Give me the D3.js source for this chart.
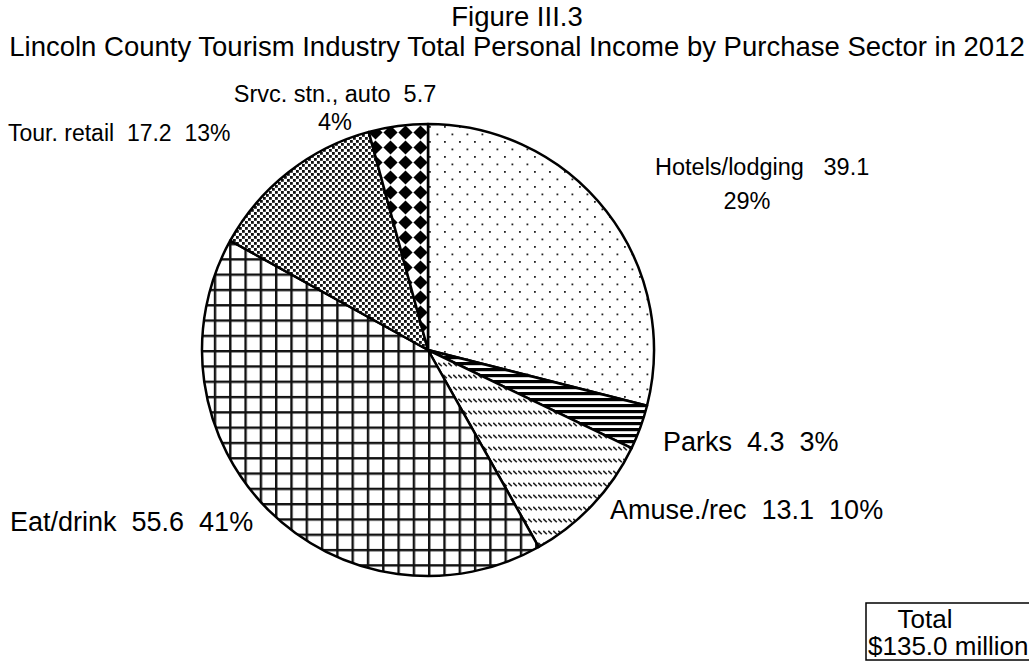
<!DOCTYPE html>
<html><head><meta charset="utf-8">
<script src="https://cdn.jsdelivr.net/npm/d3@7"></script>
<style>
html,body{margin:0;padding:0;background:#fff;}
svg{display:block;font-family:"Liberation Sans",Arial,sans-serif;}
text{fill:#000;}
</style></head>
<body>
<svg id="chart" width="1029" height="665"></svg>
<script>
const sectors = ["Hotels/lodging","Parks","Amuse./rec","Eat/drink","Tour. retail","Srvc. stn., auto"];
const values = [39.1, 4.3, 13.1, 55.6, 17.2, 5.7];
const percents = ["29%","3%","10%","41%","13%","4%"];
const titleLines = ["Figure III.3","Lincoln County Tourism Industry Total Personal Income by Purchase Sector in 2012"];
const totalLines = ["Total","$135.0 million"];

const W = 1029, H = 665;
const cx = 428, cy = 350, R = 226;
const svg = d3.select("#chart");
const defs = svg.append("defs");

function pat(id, w, h) {
  return defs.append("pattern").attr("id", id).attr("patternUnits", "userSpaceOnUse")
    .attr("width", w).attr("height", h);
}
// Hotels: sparse staggered dots
let p = pat("p0", 15, 15);
p.append("rect").attr("width",15).attr("height",15).attr("fill","#fff");
p.append("rect").attr("x",1).attr("y",1).attr("width",1.8).attr("height",1.8).attr("fill","#222");
p.append("rect").attr("x",8.5).attr("y",8.5).attr("width",1.8).attr("height",1.8).attr("fill","#222");
// Parks: horizontal stripes
p = pat("p1", 6, 6);
p.append("rect").attr("width",6).attr("height",6).attr("fill","#fff");
p.append("rect").attr("y",0).attr("width",6).attr("height",3.2).attr("fill","#000");
// Amuse: rows of short diagonal strokes
p = pat("p2", 5, 12);
p.append("rect").attr("width",5).attr("height",12).attr("fill","#fff");
p.append("line").attr("x1",0.3).attr("y1",0.8).attr("x2",3.8).attr("y2",4.3).attr("stroke","#222").attr("stroke-width",1.6);
// Eat/drink: grid
p = pat("p3", 15.3, 15.3);
p.append("rect").attr("width",15.3).attr("height",15.3).attr("fill","#fff");
p.append("rect").attr("x",0).attr("y",0).attr("width",2.4).attr("height",15.3).attr("fill","#111");
p.append("rect").attr("x",0).attr("y",0).attr("width",15.3).attr("height",2.4).attr("fill","#111");
// Tour retail: dense staggered squares
p = pat("p4", 6, 6);
p.append("rect").attr("width",6).attr("height",6).attr("fill","#fff");
p.append("rect").attr("x",0).attr("y",0).attr("width",2.8).attr("height",2.8).attr("fill","#111");
p.append("rect").attr("x",3).attr("y",3).attr("width",2.8).attr("height",2.8).attr("fill","#111");
// Srvc: diamond checker
p = pat("p5", 15, 15);
p.append("rect").attr("width",15).attr("height",15).attr("fill","#fff");
p.append("path").attr("d","M7.5,0.4 L14.6,7.5 L7.5,14.6 L0.4,7.5 Z").attr("fill","#000");

const pie = d3.pie().sort(null).value(d => d)(values);
const arc = d3.arc().innerRadius(0).outerRadius(R);

const g = svg.append("g").attr("transform", `translate(${cx},${cy})`);
g.selectAll("path.slice").data(pie).join("path")
  .attr("class","slice")
  .attr("d", arc)
  .attr("fill", (d,i) => `url(#p${i})`)
  .attr("stroke","#000").attr("stroke-width",2.5).attr("stroke-linejoin","round");

svg.selectAll("text.title").data(titleLines).join("text")
  .attr("class","title")
  .attr("x", 517).attr("y", (d,i) => 26 + i*30)
  .attr("text-anchor","middle").attr("font-size", 27.5)
  .text(d => d);

const labelLayout = [
  {lines: [i => `${sectors[i]}   ${values[i]}`, i => percents[i]], x: [655, 747], y: [175, 209], anchor: ["start","middle"], size: 23.5},
  {lines: [i => `${sectors[i]}  ${values[i]}  ${percents[i]}`], x: [663], y: [451], anchor: ["start"], size: 27},
  {lines: [i => `${sectors[i]}  ${values[i]}  ${percents[i]}`], x: [610], y: [519], anchor: ["start"], size: 27},
  {lines: [i => `${sectors[i]}  ${values[i]}  ${percents[i]}`], x: [10], y: [531], anchor: ["start"], size: 27},
  {lines: [i => `${sectors[i]}  ${values[i]}  ${percents[i]}`], x: [8], y: [141], anchor: ["start"], size: 23},
  {lines: [i => `${sectors[i]}  ${values[i]}`, i => percents[i]], x: [335, 335], y: [102, 130], anchor: ["middle","middle"], size: 23.5}
];
labelLayout.forEach((L, i) => {
  L.lines.forEach((fn, j) => {
    svg.append("text").attr("class","label")
      .attr("x", L.x[j]).attr("y", L.y[j])
      .attr("text-anchor", L.anchor[j]).attr("font-size", L.size)
      .style("white-space","pre")
      .text(fn(i));
  });
});

svg.append("rect").attr("x",866).attr("y",603).attr("width",180).attr("height",57)
  .attr("fill","#fff").attr("stroke","#000").attr("stroke-width",1.5);
svg.append("text").attr("x",925).attr("y",628).attr("text-anchor","middle").attr("font-size",26).text(totalLines[0]);
svg.append("text").attr("x",868).attr("y",655).attr("text-anchor","start").attr("font-size",26).text(totalLines[1]);
</script>
</body></html>
